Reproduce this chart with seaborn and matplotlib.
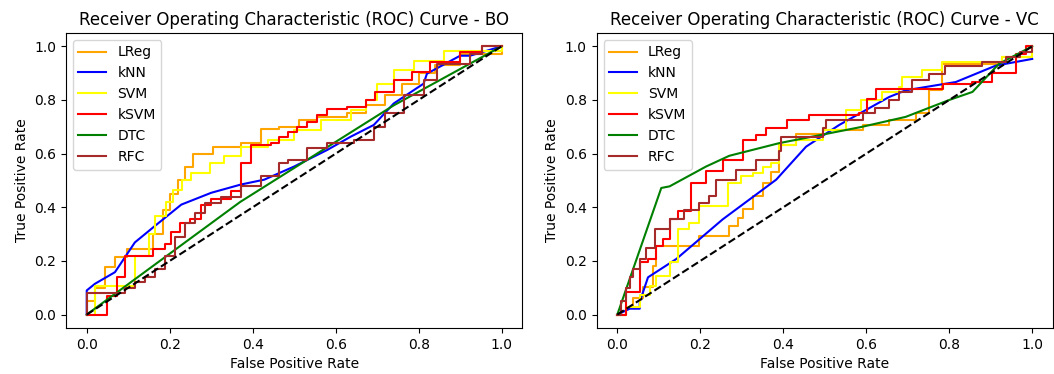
import matplotlib
matplotlib.use('Agg')
import matplotlib.pyplot as plt
import seaborn as sns

# ROC data (fpr, tpr)
models = ['LReg', 'kNN', 'SVM', 'kSVM', 'DTC', 'RFC']
colors = ['orange', 'blue', 'yellow', 'red', 'green', 'brown']
stepped = [True, False, True, True, False, True]

# ---- BO ----
bo_lreg_fpr = [0, 0, 0.02, 0.044, 0.068, 0.096, 0.16, 0.184, 0.2, 0.22, 0.236, 0.256, 0.304, 0.372, 0.42, 0.464, 0.512, 0.556, 0.628, 0.672, 0.72, 0.76, 0.8, 0.84, 0.9, 1, 1]
bo_lreg_tpr = [0, 0.05, 0.1, 0.176, 0.215, 0.244, 0.3, 0.39, 0.45, 0.5, 0.55, 0.6, 0.625, 0.64, 0.69, 0.70, 0.725, 0.737, 0.75, 0.78, 0.82, 0.86, 0.9, 0.93, 0.97, 0.97, 1]
bo_knn_fpr = [0, 0, 0.02, 0.068, 0.116, 0.164, 0.228, 0.3, 0.372, 0.428, 0.5, 0.58, 0.636, 0.692, 0.74, 0.812, 0.82, 0.9, 0.924, 1]
bo_knn_tpr = [0, 0.09, 0.115, 0.158, 0.269, 0.33, 0.41, 0.454, 0.485, 0.503, 0.552, 0.614, 0.663, 0.707, 0.787, 0.861, 0.898, 0.965, 0.965, 1]
bo_svm_fpr = [0, 0.02, 0.116, 0.15, 0.164, 0.19, 0.208, 0.23, 0.252, 0.296, 0.332, 0.372, 0.436, 0.5, 0.564, 0.636, 0.672, 0.7, 0.74, 0.788, 0.86, 1, 1]
bo_svm_tpr = [0, 0.108, 0.22, 0.3, 0.367, 0.42, 0.466, 0.5, 0.528, 0.565, 0.59, 0.626, 0.65, 0.688, 0.725, 0.762, 0.8, 0.86, 0.91, 0.947, 0.984, 0.984, 1]
bo_ksvm_fpr = [0, 0.048, 0.072, 0.092, 0.16, 0.188, 0.204, 0.224, 0.248, 0.276, 0.3, 0.348, 0.372, 0.396, 0.444, 0.464, 0.484, 0.508, 0.532, 0.556, 0.58, 0.628, 0.672, 0.696, 0.74, 0.784, 0.828, 0.9, 0.952, 1]
bo_ksvm_tpr = [0, 0.07, 0.14, 0.22, 0.244, 0.263, 0.306, 0.343, 0.355, 0.41, 0.43, 0.46, 0.565, 0.633, 0.639, 0.663, 0.682, 0.70, 0.719, 0.744, 0.768, 0.774, 0.8, 0.83, 0.873, 0.904, 0.94, 0.978, 1.0, 1]
bo_dtc_fpr = [0, 0.37, 0.74, 1]
bo_dtc_tpr = [0, 0.42, 0.78, 1]
bo_rfc_fpr = [0, 0, 0.092, 0.116, 0.14, 0.164, 0.188, 0.212, 0.236, 0.26, 0.284, 0.324, 0.372, 0.42, 0.464, 0.484, 0.532, 0.58, 0.644, 0.692, 0.72, 0.764, 0.812, 0.844, 0.924, 0.952, 1]
bo_rfc_tpr = [0, 0.08, 0.1, 0.12, 0.14, 0.17, 0.22, 0.29, 0.34, 0.38, 0.417, 0.44, 0.478, 0.515, 0.565, 0.577, 0.62, 0.639, 0.65, 0.70, 0.75, 0.817, 0.873, 0.935, 0.97, 1.0, 1]

# ---- VC ----
vc_lreg_fpr = [0, 0.02, 0.038, 0.062, 0.087, 0.094, 0.198, 0.27, 0.29, 0.302, 0.326, 0.35, 0.37, 0.39, 0.431, 0.495, 0.591, 0.655, 0.72, 0.751, 0.783, 0.928, 1, 1]
vc_lreg_tpr = [0, 0.03, 0.06, 0.102, 0.18, 0.256, 0.293, 0.33, 0.36, 0.392, 0.441, 0.49, 0.53, 0.633, 0.675, 0.688, 0.707, 0.725, 0.75, 0.836, 0.935, 0.959, 0.984, 1]
vc_knn_fpr = [0, 0.03, 0.054, 0.054, 0.074, 0.142, 0.254, 0.383, 0.455, 0.535, 0.655, 0.695, 0.816, 0.912, 1]
vc_knn_tpr = [0, 0.022, 0.022, 0.047, 0.139, 0.207, 0.355, 0.503, 0.626, 0.707, 0.811, 0.836, 0.867, 0.928, 0.953]
vc_svm_fpr = [0, 0.02, 0.054, 0.078, 0.094, 0.126, 0.146, 0.174, 0.198, 0.266, 0.298, 0.326, 0.35, 0.37, 0.39, 0.431, 0.495, 0.551, 0.587, 0.639, 0.679, 0.687, 0.735, 0.783, 0.928, 1, 1]
vc_svm_tpr = [0, 0.03, 0.072, 0.108, 0.145, 0.195, 0.318, 0.343, 0.404, 0.49, 0.515, 0.528, 0.55, 0.565, 0.633, 0.651, 0.688, 0.762, 0.8, 0.83, 0.848, 0.885, 0.91, 0.941, 0.959, 0.978, 1]
vc_ksvm_fpr = [0, 0.022, 0.054, 0.074, 0.094, 0.11, 0.126, 0.146, 0.178, 0.214, 0.254, 0.302, 0.335, 0.358, 0.41, 0.463, 0.583, 0.603, 0.623, 0.784, 0.856, 0.904, 0.96, 0.985, 1]
vc_ksvm_tpr = [0, 0.084, 0.195, 0.207, 0.256, 0.281, 0.355, 0.386, 0.49, 0.534, 0.577, 0.651, 0.67, 0.694, 0.725, 0.744, 0.75, 0.805, 0.842, 0.861, 0.866, 0.9, 0.97, 1.0, 1]
vc_dtc_fpr = [0, 0.106, 0.126, 0.214, 0.27, 0.39, 0.59, 0.695, 0.8, 0.856, 0.92, 1]
vc_dtc_tpr = [0, 0.472, 0.478, 0.552, 0.592, 0.639, 0.70, 0.737, 0.8, 0.83, 0.935, 1]
vc_rfc_fpr = [0, 0.01, 0.02, 0.03, 0.038, 0.054, 0.07, 0.09, 0.126, 0.16, 0.198, 0.222, 0.238, 0.286, 0.335, 0.39, 0.394, 0.495, 0.503, 0.591, 0.62, 0.655, 0.679, 0.711, 0.751, 0.791, 0.88, 0.936, 0.97, 1]
vc_rfc_tpr = [0, 0.05, 0.1, 0.14, 0.17, 0.207, 0.25, 0.318, 0.355, 0.39, 0.417, 0.441, 0.503, 0.54, 0.577, 0.608, 0.663, 0.694, 0.725, 0.75, 0.77, 0.8, 0.83, 0.873, 0.898, 0.928, 0.94, 0.959, 0.98, 1]

bo = [(bo_lreg_fpr, bo_lreg_tpr), (bo_knn_fpr, bo_knn_tpr), (bo_svm_fpr, bo_svm_tpr),
      (bo_ksvm_fpr, bo_ksvm_tpr), (bo_dtc_fpr, bo_dtc_tpr), (bo_rfc_fpr, bo_rfc_tpr)]
vc = [(vc_lreg_fpr, vc_lreg_tpr), (vc_knn_fpr, vc_knn_tpr), (vc_svm_fpr, vc_svm_tpr),
      (vc_ksvm_fpr, vc_ksvm_tpr), (vc_dtc_fpr, vc_dtc_tpr), (vc_rfc_fpr, vc_rfc_tpr)]

fig, axes = plt.subplots(1, 2, figsize=(10.54, 3.74), dpi=100)
axes[0].set_position([0.0626, 0.123, 0.433, 0.789])
axes[1].set_position([0.566, 0.123, 0.433, 0.789])

for ax, data, name in zip(axes, [bo, vc], ['BO', 'VC']):
    for (fpr, tpr), label, c, st in zip(data, models, colors, stepped):
        sns.lineplot(x=fpr, y=tpr, ax=ax, color=c, label=label, estimator=None, sort=False,
                     drawstyle='steps-post' if st else 'default', linewidth=1.5)
    ax.plot([0, 1], [0, 1], 'k--', linewidth=1.5)
    ax.set_xlabel('False Positive Rate')
    ax.set_ylabel('True Positive Rate')
    ax.set_title('Receiver Operating Characteristic (ROC) Curve - ' + name)
    ax.legend(loc='upper left')

plt.savefig('out.png', dpi=100)
